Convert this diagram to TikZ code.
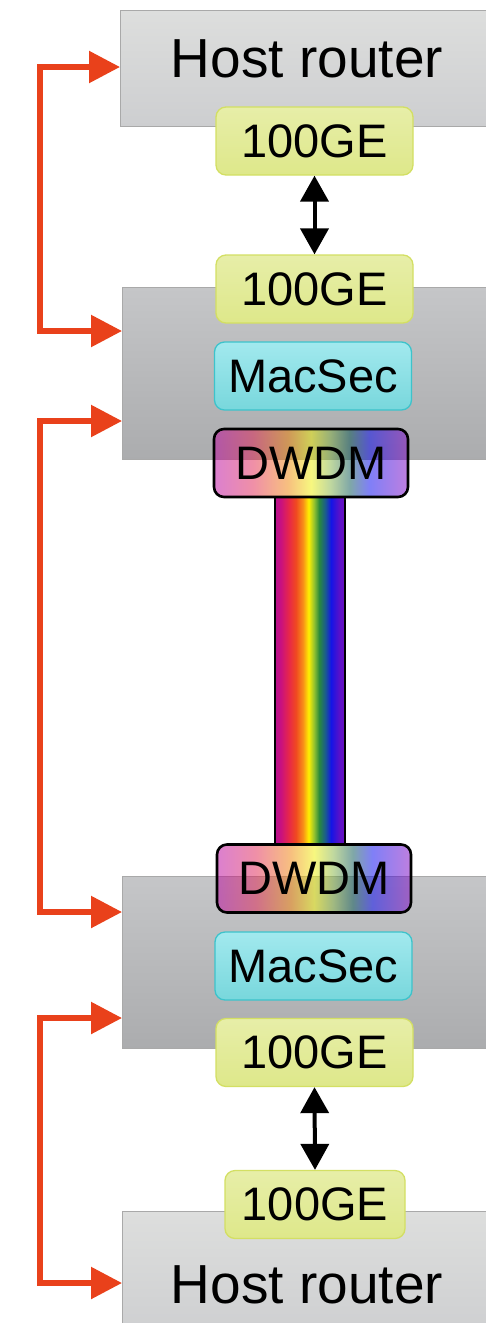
\documentclass[tikz,border=0pt]{standalone}
\usepackage{fontspec}
\setmainfont{Liberation Sans}
\usetikzlibrary{arrows.meta,calc}

% colours
\definecolor{linkred}{HTML}{E9411B}
\definecolor{boxedge}{HTML}{A9A9A9}
\definecolor{hostTop}{HTML}{DDDEDD}
\definecolor{hostBot}{HTML}{CDCED0}
\definecolor{midTop}{HTML}{C5C6C8}
\definecolor{midBot}{HTML}{ABACAE}
\definecolor{geTop}{HTML}{E7EEA8}
\definecolor{geBot}{HTML}{DEE88A}
\definecolor{geEdge}{HTML}{D3DF63}
\definecolor{msTop}{HTML}{A2E9EE}
\definecolor{msBot}{HTML}{78D7DC}
\definecolor{msEdge}{HTML}{3DC3CB}

% spectrum across the fibre
\definecolor{fA}{HTML}{B8108C}
\definecolor{fB}{HTML}{C81080}
\definecolor{fC}{HTML}{E82848}
\definecolor{fD}{HTML}{F04A20}
\definecolor{fE}{HTML}{F89018}
\definecolor{fF}{HTML}{FFF000}
\definecolor{fG}{HTML}{90C030}
\definecolor{fH}{HTML}{2A8A3C}
\definecolor{fI}{HTML}{1A5A90}
\definecolor{fJ}{HTML}{1414E6}
\definecolor{fK}{HTML}{5A10C8}
\definecolor{fL}{HTML}{6A10C0}
\pgfdeclarehorizontalshading{fiberrb}{100bp}{%
  color(0bp)=(fA); color(25bp)=(fA); color(29bp)=(fB); color(35bp)=(fC);
  color(40bp)=(fD); color(45bp)=(fE); color(49bp)=(fF); color(53bp)=(fG);
  color(56.5bp)=(fH); color(61bp)=(fI); color(65bp)=(fJ); color(71bp)=(fK);
  color(75bp)=(fL); color(100bp)=(fL)}

% spectrum across the DWDM ports
\definecolor{dA}{HTML}{B800A0}
\definecolor{dB}{HTML}{E02050}
\definecolor{dC}{HTML}{F08000}
\definecolor{dD}{HTML}{F0F000}
\definecolor{dE}{HTML}{80B040}
\definecolor{dF}{HTML}{005050}
\definecolor{dG}{HTML}{0000F0}
\definecolor{dH}{HTML}{8000C0}
\pgfdeclarehorizontalshading{dwdmrb}{100bp}{%
  color(0bp)=(dA); color(25bp)=(dA); color(35bp)=(dB); color(44bp)=(dC);
  color(50bp)=(dD); color(55bp)=(dE); color(60bp)=(dF); color(65bp)=(dG);
  color(75bp)=(dH); color(100bp)=(dH)}

\tikzset{
  hostbox/.style={anchor=north west, draw=boxedge, line width=1.2pt,
    top color=hostTop, bottom color=hostBot, minimum width=380pt,
    inner sep=0pt},
  midbox/.style={anchor=north west, draw=boxedge, line width=1.2pt,
    top color=midTop, bottom color=midBot, minimum width=378pt,
    minimum height=172pt, inner sep=0pt},
  port/.style={rounded corners=10pt, inner sep=0pt, minimum width=197pt,
    minimum height=68pt, font=\fontsize{47}{50}\selectfont},
  gebox/.style={port, draw=geEdge, line width=1.3pt, top color=geTop,
    bottom color=geBot},
  msbox/.style={port, draw=msEdge, line width=1.3pt, top color=msTop,
    bottom color=msBot},
  dwdmbox/.style={port, draw=black, line width=2.6pt, minimum width=194pt,
    shade, shading=dwdmrb, fill opacity=0.5, text opacity=1},
  fiber/.style={draw=black, line width=2.2pt, shade, shading=fiberrb,
    minimum width=70pt, minimum height=347pt, inner sep=0pt},
  hosttext/.style={anchor=base, inner sep=0pt,
    font=\fontsize{55}{60}\selectfont},
  ethlink/.style={line width=4pt, black,
    {Triangle[length=26pt,width=28pt]}-{Triangle[length=26pt,width=28pt]}},
  redlink/.style={line width=5.5pt, linkred, line join=miter,
    {Triangle[length=31pt,width=31pt]}-{Triangle[length=31pt,width=31pt]}}
}

\begin{document}
\begin{tikzpicture}[x=1pt,y=-1pt]
\useasboundingbox (0,0) rectangle (486,1323);

% chassis
\node[hostbox, minimum height=116pt] (hostA) at (120,10) {};
\node[midbox] (midA) at (122,287) {};
\node[midbox] (midB) at (122,876) {};
\node[hostbox, minimum height=130pt] (hostB) at (122,1211) {};
\node[hosttext] (hostAtxt) at (307,77) {Host router};
\node[hosttext] (hostBtxt) at (307,1303) {Host router};

% optical fibre between the two DWDM ports
\node[fiber] (fib) at (310,670.5) {};

% ports
\node[gebox] (ge1) at (314.5,141) {100GE};
\node[gebox] (ge2) at (314.5,289) {100GE};
\node[msbox] (msA) at (313,376) {MacSec};
\node[dwdmbox] (dwA) at (311,463) {DWDM};
\node[dwdmbox] (dwB) at (314,878.5) {DWDM};
\node[msbox] (msB) at (313.5,966) {MacSec};
\node[gebox] (ge3) at (314.5,1052.5) {100GE};
\node[gebox, minimum width=180pt] (ge4) at (315,1204.5) {100GE};

% Ethernet links
\draw[ethlink] (ge1.south) -- (ge2.north);
\draw[ethlink] (ge3.south) -- (ge4.north);

% management links on the left
\coordinate (pA) at ($(hostA.north west)+(0,57)$);
\coordinate (pB) at ($(midA.north west)+(0,44)$);
\coordinate (pC) at ($(midA.north west)+(0,134)$);
\coordinate (pD) at ($(midB.north west)+(0,36)$);
\coordinate (pE) at ($(midB.north west)+(0,142)$);
\coordinate (pF) at ($(hostB.north west)+(0,72)$);
\draw[redlink] (pA) -- ++(-80,0) |- (pB);
\draw[redlink] (pC) -- ++(-82,0) |- (pD);
\draw[redlink] (pE) -- ++(-82,0) |- (pF);
\end{tikzpicture}
\end{document}
